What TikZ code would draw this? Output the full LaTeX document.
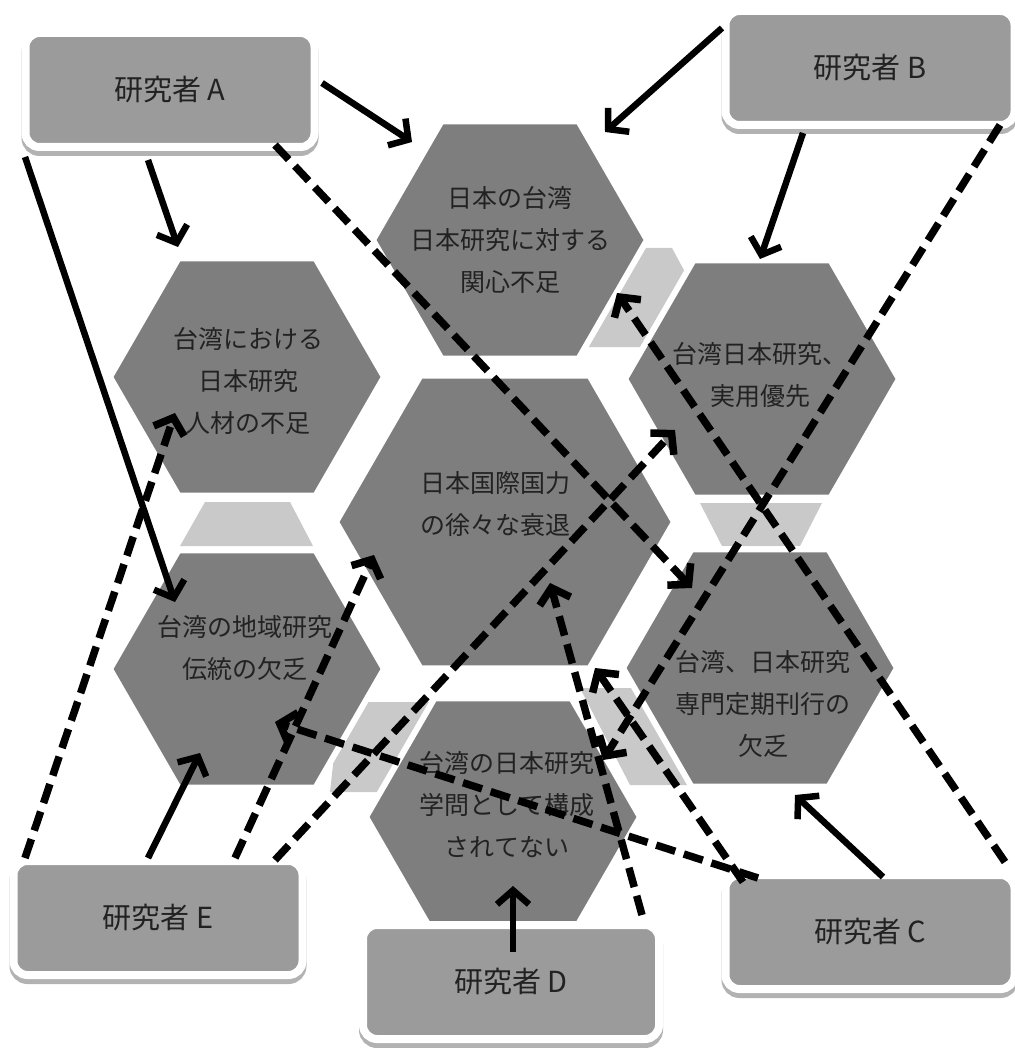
\documentclass[tikz,border=0pt]{standalone}
\usepackage{fontspec}
\setmainfont{Noto Sans CJK JP}
\usetikzlibrary{arrows.meta}
\definecolor{hexgray}{HTML}{7E7E7E}
\definecolor{boxgray}{HTML}{9B9B9B}
\definecolor{patchgray}{HTML}{C9C9C9}
\definecolor{txtgray}{HTML}{222222}
\newcommand\myhex[3]{\filldraw[hexshape] (#1,#2) ++(#3,0) -- ++(-#3/2,{0.866*#3}) -- ++(-#3,0) -- ++(-#3/2,{-0.866*#3}) -- ++(#3/2,{-0.866*#3}) -- ++(#3,0) -- cycle;}
\begin{document}
\begin{tikzpicture}[x=1pt,y=-1pt,
  hexshape/.style={fill=hexgray, draw=white, line width=6pt, line join=miter},
  patch/.style={fill=patchgray},
  hexlabel/.style={align=center, text=txtgray, font=\fontsize{25}{42}\selectfont, inner sep=0pt},
  researcher/.style={rectangle, rounded corners=14pt, fill=boxgray, draw=white, line width=8pt,
    minimum width=289pt, minimum height=114pt, text=txtgray, font=\fontsize{29}{34}\selectfont,
    preaction={fill=black!30, draw=black!30, transform canvas={yshift=-5pt}}},
  solidarrow/.style={line width=6.5pt, -{Straight Barb[length=14pt,width=32pt]}},
  dasharrow/.style={line width=7.5pt, dash pattern=on 20pt off 9pt, -{Straight Barb[length=14pt,width=32pt]}}
]
\useasboundingbox (0,0) rectangle (1014,1048);
\fill[white] (0,0) rectangle (1014,1048);

% light gray patches between hexagons
\fill[patch] (635,248) -- (672,248) -- (700,300) -- (660,347) -- (575,347) -- cycle;
\fill[patch] (205,502) -- (290,502) -- (313,546) -- (180,546) -- cycle;
\fill[patch] (700,503) -- (822,503) -- (800,546) -- (722,546) -- cycle;
\fill[patch] (340,702) -- (445,702) -- (385,792) -- (330,792) -- cycle;
\fill[patch] (580,688) -- (665,688) -- (720,785) -- (630,785) -- cycle;

% hexagons
\myhex{510}{240}{137}
\myhex{247}{377}{137}
\myhex{762}{379}{137}
\myhex{505}{522}{169}
\myhex{247}{669}{137}
\myhex{760}{668}{137}
\myhex{503}{817}{137}

% hexagon labels
\node[hexlabel] (h1) at (510,240) {日本の台湾\\日本研究に対する\\関心不足};
\node[hexlabel] (h2) at (248,381) {台湾における\\日本研究\\人材の不足};
\node[hexlabel] (h3) at (760,375) {台湾日本研究、\\実用優先};
\node[hexlabel] (h4) at (495,504) {日本国際国力\\の徐々な衰退};
\node[hexlabel] (h5) at (245,648) {台湾の地域研究\\伝統の欠乏};
\node[hexlabel] (h6) at (763,704) {台湾、日本研究\\専門定期刊行の\\欠乏};
\node[hexlabel] (h7) at (507,805) {台湾の日本研究\\学問として構成\\されてない};

% researcher boxes
\node[researcher] (A) at (170,90) {研究者 A};
\node[researcher] (B) at (870,68) {研究者 B};
\node[researcher] (C) at (870,932) {研究者 C};
\node[researcher, minimum width=296pt] (D) at (511,982) {研究者 D};
\node[researcher] (E) at (158,918) {研究者 E};

% connectors
\draw[solidarrow] ([shift={(152,-7)}]A.center) -- ([shift={(-98,-98)}]h1.center);
\draw[solidarrow] ([shift={(-22,70)}]A.center) -- ([shift={(-70,-134)}]h2.center);
\draw[solidarrow] ([shift={(-145,67)}]A.center) -- ([shift={(-70,-46)}]h5.center);
\draw[dasharrow] ([shift={(105,55)}]A.center) -- ([shift={(-71,-116)}]h6.center);

\draw[solidarrow] ([shift={(-148,-40)}]B.center) -- ([shift={(95,-108)}]h1.center);
\draw[solidarrow] ([shift={(-67,65)}]B.center) -- ([shift={(0,-116)}]h3.center);
\draw[dasharrow] ([shift={(130,57)}]B.center) -- ([shift={(96,-45)}]h7.center);

\draw[solidarrow] ([shift={(13,-55)}]C.center) -- ([shift={(32,91)}]h6.center);
\draw[dasharrow] ([shift={(135,-70)}]C.center) -- ([shift={(107,53)}]h1.center);
\draw[dasharrow] ([shift={(-112,-54)}]C.center) -- ([shift={(30,74)}]h5.center);
\draw[dasharrow] ([shift={(-127,-50)}]C.center) -- ([shift={(100,164)}]h4.center);

\draw[solidarrow] ([shift={(2,-30)}]D.center) -- ([shift={(6,81)}]h7.center);
\draw[dasharrow] ([shift={(131,-67)}]D.center) -- ([shift={(55,79)}]h4.center);

\draw[dasharrow] ([shift={(-133,-60)}]E.center) -- ([shift={(-73,32)}]h2.center);
\draw[solidarrow] ([shift={(-10,-60)}]E.center) -- ([shift={(-45,105)}]h5.center);
\draw[dasharrow] ([shift={(77,-60)}]E.center) -- ([shift={(-121,51)}]h4.center);
\draw[dasharrow] ([shift={(117,-58)}]E.center) -- ([shift={(-85,55)}]h3.center);
\end{tikzpicture}
\end{document}
